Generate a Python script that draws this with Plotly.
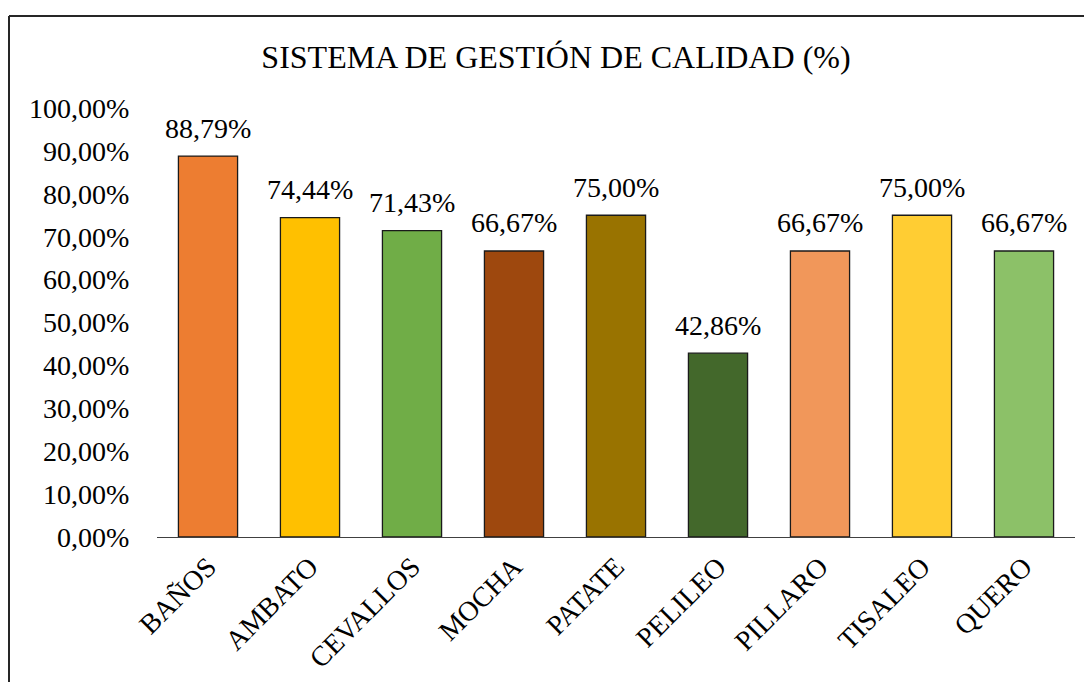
import plotly.graph_objects as go

categories = ["BAÑOS", "AMBATO", "CEVALLOS", "MOCHA", "PATATE", "PELILEO", "PILLARO", "TISALEO", "QUERO"]
values = [88.79, 74.44, 71.43, 66.67, 75.00, 42.86, 66.67, 75.00, 66.67]
colors = ["#ED7D31", "#FFC000", "#70AD47", "#9E480E", "#997300", "#43682B", "#F1975A", "#FFCD33", "#8CC168"]
title_text = "SISTEMA DE GESTIÓN DE CALIDAD (%)"

FONT = "Liberation Serif, Times New Roman, serif"

# page body has an 8px margin, so the figure is 8px smaller than the window
W, H = 1084, 674
L, R, T, B = 149, 17, 100, 145
pw, ph = W - L - R, H - T - B

fig = go.Figure()
fig.add_trace(go.Bar(
    x=categories, y=values,
    marker=dict(color=colors, line=dict(color="#1a1a1a", width=1.3)),
    width=0.58,
    hoverinfo="x+y",
))

annotations = []
for c, v in zip(categories, values):
    annotations.append(dict(
        x=c, y=v, xref="x", yref="y",
        text=f"{v:.2f}".replace(".", ",") + "%",
        showarrow=False, yanchor="middle", yshift=28,
        font=dict(family=FONT, size=28, color="#000000"),
    ))

# outer chart border (top and left edges visible in reference)
bx0 = (1 - L) / pw
by1 = 1 + (T - 8) / ph
shapes = [
    dict(type="line", xref="paper", yref="paper", x0=bx0, x1=(W + 20 - L) / pw, y0=by1, y1=by1,
         line=dict(color="#262626", width=2)),
    dict(type="line", xref="paper", yref="paper", x0=bx0, x1=bx0, y0=by1, y1=-(B + 20) / ph,
         line=dict(color="#262626", width=2)),
]

fig.update_layout(
    width=W, height=H,
    margin=dict(l=L, r=R, t=T, b=B, autoexpand=False),
    paper_bgcolor="white", plot_bgcolor="white",
    separators=",.",
    showlegend=False,
    bargap=0.42,
    title=dict(text=title_text, x=548 / W, xanchor="center", y=1 - 49 / H, yanchor="middle",
               xref="container", yref="container",
               font=dict(family=FONT, size=32, color="#000000")),
    font=dict(family=FONT, size=28, color="#000000"),
    annotations=annotations,
    shapes=shapes,
    xaxis=dict(
        showline=True, linecolor="#404040", linewidth=1.3,
        showgrid=False, tickangle=-45,
        ticks="outside", ticklen=1, tickcolor="rgba(0,0,0,0)",
        tickfont=dict(family=FONT, size=28, color="#000000"),
    ),
    yaxis=dict(
        range=[0, 100], dtick=10, tickformat=".2f", ticksuffix="%",
        showgrid=False, showline=False, zeroline=False,
        ticks="outside", ticklen=21, tickcolor="rgba(0,0,0,0)",
        tickfont=dict(family=FONT, size=28, color="#000000"),
    ),
)

fig.write_html("out.html")
